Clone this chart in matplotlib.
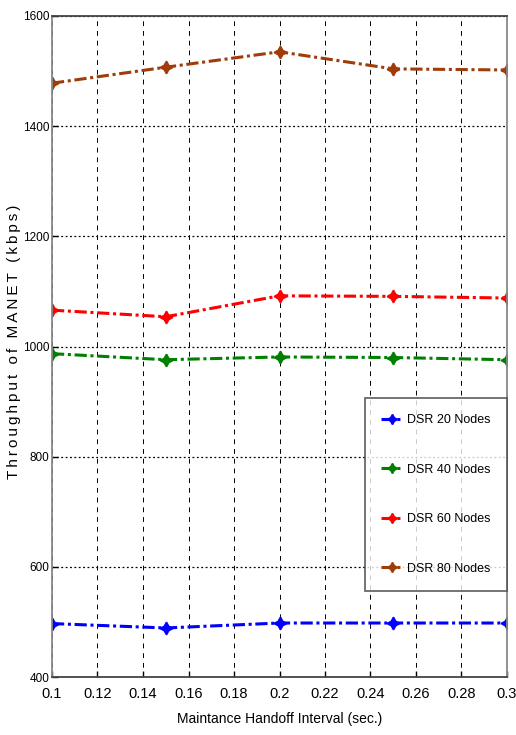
import numpy as np
import matplotlib.pyplot as plt

interval = [0.1, 0.15, 0.2, 0.25, 0.3]
dsr20 = [497, 489, 498, 498, 498]
dsr40 = [987, 976, 981, 980, 976]
dsr60 = [1066, 1054, 1092, 1091, 1088]
dsr80 = [1478, 1507, 1535, 1504, 1502]

series = [
    (dsr20, '#0000ff', 'DSR 20 Nodes'),
    (dsr40, '#008000', 'DSR 40 Nodes'),
    (dsr60, '#ff0000', 'DSR 60 Nodes'),
    (dsr80, '#a03c0a', 'DSR 80 Nodes'),
]

plt.rcParams['font.family'] = ['Liberation Sans', 'DejaVu Sans']

fig = plt.figure(figsize=(5.16, 7.35), dpi=100)
ax = fig.add_axes([52 / 516, 1 - 677 / 735, 455 / 516, 661 / 735])

for vals, col, lab in series:
    ax.plot(interval, vals, linestyle=(0, (4, 1.2, 1, 1.2)), color=col,
            linewidth=2.2, marker=(4, 1, 0), markersize=9,
            markeredgewidth=1.2, label=lab)

ax.set_xlim(0.1, 0.3)
ax.set_ylim(400, 1600)
ax.set_xticks(np.arange(0.1, 0.301, 0.02))
ax.set_xticklabels(['0.1', '0.12', '0.14', '0.16', '0.18', '0.2',
                    '0.22', '0.24', '0.26', '0.28', '0.3'])
ax.set_yticks([400, 600, 800, 1000, 1200, 1400, 1600])

ax.xaxis.grid(True, linestyle=(0, (5, 5)), color='black', linewidth=0.7)
ax.yaxis.grid(True, linestyle=(0, (1.5, 2)), color='black', linewidth=0.9)

ax.tick_params(direction='in', length=4, width=1)
ax.tick_params(axis='x', pad=7, labelsize=10.5)
ax.tick_params(axis='y', pad=2, labelsize=8.5)
for s in ax.spines.values():
    s.set_color('#444444')
    s.set_linewidth(1.3)
ax.spines['left'].set_color('#888888')
ax.spines['right'].set_color('#888888')

ax.set_xlabel('Maintance Handoff Interval (sec.)', fontsize=10, labelpad=8)

# spaced-out y label
ylab = '\u2009'.join('Throughput of MANET (kbps)')
fig.text(14 / 516, 1 - 342 / 735, ylab,
         fontsize=11, rotation=90, ha='center', va='center')

leg = ax.legend(loc='lower right', bbox_to_anchor=(1.0, 0.13),
                fontsize=9, labelspacing=3.0, borderpad=1.3,
                handlelength=1.7, handletextpad=0.4, fancybox=False,
                frameon=True, borderaxespad=0, markerscale=0.8)
leg.get_frame().set_edgecolor('#444444')
leg.get_frame().set_linewidth(1.3)

fig.savefig('out.png', dpi=100)
